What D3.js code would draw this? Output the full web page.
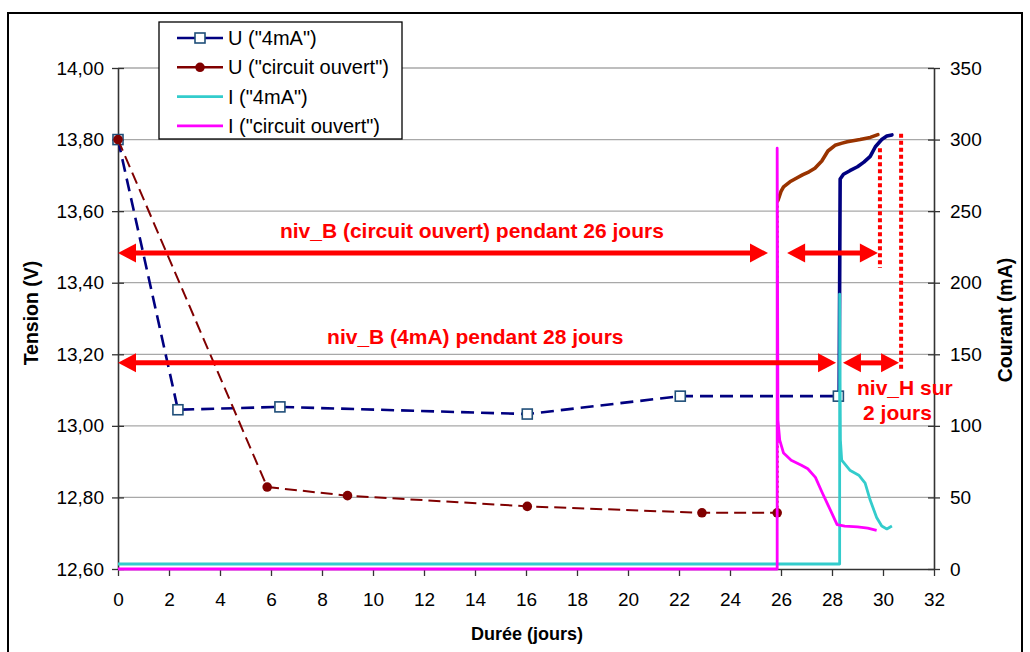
<!DOCTYPE html>
<html><head><meta charset="utf-8">
<script src="https://cdn.jsdelivr.net/npm/d3@7"></script>
<style>
body{margin:0;background:#fff}
svg{display:block}
text{font-family:"Liberation Sans",Arial,Helvetica,sans-serif}
</style>
</head><body>
<svg id="chart" width="1030" height="652"></svg>
<script>
// ---------------- DATA ----------------
const xTicks = [0,2,4,6,8,10,12,14,16,18,20,22,24,26,28,30,32];
const yLeftTicks = [12.6,12.8,13.0,13.2,13.4,13.6,13.8,14.0];
const yRightTicks = [0,50,100,150,200,250,300,350];
const seriesNames = ['U ("4mA")','U ("circuit ouvert")','I ("4mA")','I ("circuit ouvert")'];

// U ("4mA") : measured points (jours, V)
const u4mADays  = [0, 2.35, 6.35, 16.05, 22.05, 28.25];
const u4mAVolts = [13.80, 13.045, 13.053, 13.033, 13.083, 13.083];
// U ("4mA") : continuous recording
const u4mACurve = [[28.28,13.083],[28.30,13.40],[28.32,13.69],[28.45,13.703],[28.7,13.713],[29.0,13.724],
  [29.25,13.737],[29.5,13.753],[29.7,13.78],[29.95,13.80],[30.15,13.81],[30.35,13.813]];

// U ("circuit ouvert") : measured points
const uCODays  = [0, 5.85, 9.0, 16.05, 22.9, 25.85];
const uCOVolts = [13.80, 12.829, 12.805, 12.775, 12.757, 12.757];
// U ("circuit ouvert") : continuous recording
const uCORise  = [[25.88,12.757],[25.88,13.63]];
const uCOCurve = [[25.88,13.63],[26.0,13.655],[26.1,13.668],[26.35,13.682],[26.6,13.692],[26.86,13.702],
  [27.1,13.71],[27.33,13.72],[27.6,13.74],[27.84,13.768],[28.12,13.784],[28.4,13.79],[28.6,13.794],
  [29.1,13.80],[29.5,13.806],[29.8,13.814]];

// I ("4mA") (jours, mA)
const i4mA = [[0,3.5],[28.3,3.5],[28.3,192],[28.33,90],[28.38,76],[28.7,69],[29.05,65.5],[29.3,60],
  [29.5,48],[29.75,36],[29.95,30],[30.15,28],[30.35,30]];
// I ("circuit ouvert") (jours, mA)
const iCO = [[0,0],[25.85,0],[25.85,294],[25.88,104],[25.95,90],[26.1,81],[26.4,76],[26.8,72.5],[27.05,70],
  [27.35,64],[27.6,54],[27.85,44.5],[28.2,31],[28.5,30],[29.0,29.5],[29.4,28.5],[29.75,27]];

// annotations (jours, V)
const annTexts = [
  {t:"niv_B (circuit ouvert) pendant 26 jours", d:6.35, v:13.525},
  {t:"niv_B (4mA) pendant 28 jours", d:8.2, v:13.228},
  {t:"niv_H sur", d:28.98, v:13.085},
  {t:"2 jours", d:29.22, v:13.015}
];
const annArrows = [
  {d0:0, d1:25.49, v:13.483},
  {d0:26.24, d1:29.80, v:13.483},
  {d0:0, d1:28.16, v:13.176},
  {d0:28.43, d1:30.63, v:13.176}
];
const annDotted = [
  {d:29.88, v0:13.776, v1:13.441},
  {d:30.71, v0:13.816, v1:13.156}
];

// ---------------- CHART ----------------
const svg = d3.select("#chart");
const L=118, R=934, T=68, B=569;
const x = d3.scaleLinear().domain([0,32]).range([L,R]);
const yL = d3.scaleLinear().domain([12.6,14.0]).range([B,T]);
const yR = d3.scaleLinear().domain([0,350]).range([B,T]);

const NAVY="#000080", MAROON="#800000", BROWN="#993300", CYAN="#33CCCC", MAG="#FF00FF", RED="#FF0000";

// outer border
svg.append("rect").attr("x",8).attr("y",13).attr("width",1014).attr("height",660)
  .attr("fill","none").attr("stroke","#000").attr("stroke-width",2);

// gridlines
svg.append("g").selectAll("line").data(yLeftTicks.slice(1)).join("line")
  .attr("x1",L).attr("x2",R).attr("y1",d=>yL(d)).attr("y2",d=>yL(d))
  .attr("stroke","#a8a8a8").attr("stroke-width",1.3);

// axes
const fmtL = d => d3.format(".2f")(d).replace(".",",");
const gL = svg.append("g").attr("transform",`translate(${L},0)`)
  .call(d3.axisLeft(yL).tickValues(yLeftTicks).tickFormat(fmtL).tickSizeInner(6).tickSizeOuter(0).tickPadding(8));
gL.selectAll(".tick line").attr("x2",6).attr("x1",-6);
const gR = svg.append("g").attr("transform",`translate(${R},0)`)
  .call(d3.axisRight(yR).tickValues(yRightTicks).tickFormat(d3.format("d")).tickSizeInner(6).tickSizeOuter(0).tickPadding(10));
gR.selectAll(".tick line").attr("x1",-6).attr("x2",6);
const gB = svg.append("g").attr("transform",`translate(0,${B})`)
  .call(d3.axisBottom(x).tickValues(xTicks).tickFormat(d3.format("d")).tickSizeInner(7).tickSizeOuter(0).tickPadding(16));
[gL,gR,gB].forEach(g=>{
  g.select(".domain").attr("stroke","#333").attr("stroke-width",1.6);
  g.selectAll(".tick line").attr("stroke","#333").attr("stroke-width",1.3);
  g.selectAll(".tick text").attr("fill","#000").style("font-size","19px");
});
gB.selectAll(".tick text").attr("dy","0.75em");

// axis titles
svg.append("text").attr("x",527).attr("y",640).attr("text-anchor","middle")
  .style("font-size","18px").style("font-weight","bold").text("Durée (jours)");
svg.append("text").attr("transform","translate(38,313) rotate(-90)").attr("text-anchor","middle")
  .style("font-size","19.5px").style("font-weight","bold").text("Tension (V)");
svg.append("text").attr("transform","translate(1012,320) rotate(-90)").attr("text-anchor","middle")
  .style("font-size","19.5px").style("font-weight","bold").text("Courant (mA)");

const lineL = d3.line().x(d=>x(d[0])).y(d=>yL(d[1]));
const lineR = d3.line().x(d=>x(d[0])).y(d=>yR(d[1]));
const plot = svg.append("g");

// U 4mA
const u4mAPts = u4mADays.map((d,i)=>[d,u4mAVolts[i]]);
plot.append("path").attr("d",lineL(u4mAPts)).attr("fill","none").attr("stroke",NAVY)
  .attr("stroke-width",2.6).attr("stroke-dasharray","13,7");
plot.append("path").attr("d",lineL(u4mACurve)).attr("fill","none").attr("stroke",NAVY)
  .attr("stroke-width",3.6).attr("stroke-linejoin","round").attr("stroke-linecap","round");
plot.append("g").selectAll("rect").data(u4mAPts).join("rect")
  .attr("x",d=>x(d[0])-5).attr("y",d=>yL(d[1])-5).attr("width",10).attr("height",10)
  .attr("fill","#fff").attr("stroke","#1F4E79").attr("stroke-width",1.6);

// U circuit ouvert
const uCOPts = uCODays.map((d,i)=>[d,uCOVolts[i]]);
plot.append("path").attr("d",lineL(uCOPts)).attr("fill","none").attr("stroke",MAROON)
  .attr("stroke-width",2).attr("stroke-dasharray","12,6");
plot.append("path").attr("d",lineL(uCORise)).attr("fill","none").attr("stroke",BROWN)
  .attr("stroke-width",1.5).attr("stroke-dasharray","2,3");
plot.append("path").attr("d",lineL(uCOCurve)).attr("fill","none").attr("stroke",BROWN)
  .attr("stroke-width",3.6).attr("stroke-linejoin","round").attr("stroke-linecap","round");
plot.append("g").selectAll("circle").data(uCOPts).join("circle")
  .attr("cx",d=>x(d[0])).attr("cy",d=>yL(d[1])).attr("r",4.8).attr("fill",MAROON);
// redraw first square marker on top partially like reference
// I 4mA
plot.append("path").attr("d",lineR(i4mA)).attr("fill","none").attr("stroke",CYAN)
  .attr("stroke-width",2.8).attr("stroke-linejoin","round");
// I circuit ouvert
plot.append("path").attr("d",lineR(iCO)).attr("fill","none").attr("stroke",MAG)
  .attr("stroke-width",2.8).attr("stroke-linejoin","round");

// annotations
const ann = svg.append("g");
annDotted.forEach(a=>{
  ann.append("line").attr("x1",x(a.d)).attr("x2",x(a.d)).attr("y1",yL(a.v0)).attr("y2",yL(a.v1))
    .attr("stroke",RED).attr("stroke-width",4).attr("stroke-dasharray","4,3");
});
annArrows.forEach(a=>{
  const x0=x(a.d0), x1=x(a.d1), yy=yL(a.v), hl=18, hw=9.5;
  ann.append("line").attr("x1",x0+hl-2).attr("x2",x1-hl+2).attr("y1",yy).attr("y2",yy)
    .attr("stroke",RED).attr("stroke-width",5);
  ann.append("path").attr("d",`M${x0},${yy}L${x0+hl},${yy-hw}L${x0+hl},${yy+hw}Z`).attr("fill",RED);
  ann.append("path").attr("d",`M${x1},${yy}L${x1-hl},${yy-hw}L${x1-hl},${yy+hw}Z`).attr("fill",RED);
});
annTexts.forEach(a=>{
  ann.append("text").attr("x",x(a.d)).attr("y",yL(a.v)).attr("fill",RED)
    .style("font-size","21px").style("font-weight","bold").text(a.t);
});

// legend
const lg = svg.append("g");
lg.append("rect").attr("x",159).attr("y",22).attr("width",243).attr("height",117)
  .attr("fill","#fff").attr("stroke","#000").attr("stroke-width",1.3);
const legColors=[NAVY,MAROON,CYAN,MAG];
seriesNames.forEach((n,i)=>{
  const yy = 38 + i*29.3;
  lg.append("line").attr("x1",177).attr("x2",223).attr("y1",yy).attr("y2",yy)
    .attr("stroke",legColors[i]).attr("stroke-width",i<2?2.6:2.8);
  if(i===0) lg.append("rect").attr("x",195).attr("y",yy-5).attr("width",10).attr("height",10)
    .attr("fill","#fff").attr("stroke","#1F4E79").attr("stroke-width",1.6);
  if(i===1) lg.append("circle").attr("cx",200).attr("cy",yy).attr("r",4.8).attr("fill",MAROON);
  lg.append("text").attr("x",228).attr("y",yy).attr("dy","0.35em").style("font-size","20px").text(n);
});
</script>
</body></html>
